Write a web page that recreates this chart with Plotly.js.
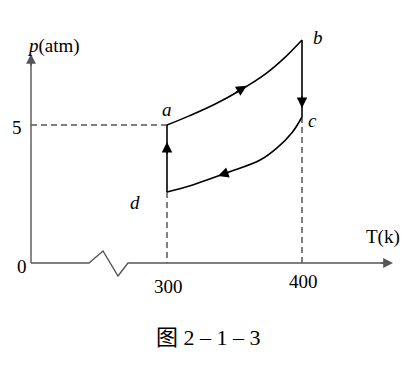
<!DOCTYPE html>
<html><head><meta charset="utf-8">
<script src="https://cdn.plot.ly/plotly-3.0.1.min.js"></script>
<style>html,body{margin:0;padding:0;background:#fff}#chart{width:410px;height:390px}</style>
</head><body><div id="chart"></div>
<script>
// state points of the cycle (T in K, p in atm)
const stateNames = ['a', 'b', 'c', 'd'];
const stateT = [300, 400, 400, 300];
const stateP = [5.0, 8.08, 5.29, 2.57];
// curve a -> b
const abT = [300, 317, 335, 354, 373, 387, 400];
const abP = [5.0, 5.34, 5.74, 6.25, 6.85, 7.43, 8.08];
// curve c -> d
const cdT = [400, 393, 381.5, 369, 344, 319, 300];
const cdP = [5.29, 4.75, 4.17, 3.73, 3.26, 2.83, 2.57];
// ticks
const xTickVals = [300, 400];
const xTickText = ['300', '400'];
const yTickVals = [0, 5];
const yTickText = ['0', '5'];
// axis geometry (origin T drawn at left because of the broken axis)
const T0 = 199.26;
const breakT = [242.2, 252.6, 263.7, 271.1];
const breakP = [0, 0.435, -0.471, 0];
const xAxisEndT = 467.4;
const yAxisTopP = 7.57;

const ink = '#000';
const axisInk = '#555';
const serif = 'Liberation Serif';

const traces = [
  {x: abT, y: abP, mode: 'lines', line: {color: ink, width: 1.6, shape: 'spline'}},
  {x: cdT, y: cdP, mode: 'lines', line: {color: ink, width: 1.6, shape: 'spline'}},
  {x: [stateT[1], stateT[2]], y: [stateP[1], stateP[2]], mode: 'lines', line: {color: ink, width: 1.6}},
  {x: [stateT[3], stateT[0]], y: [stateP[3], stateP[0]], mode: 'lines', line: {color: ink, width: 1.6}},
  // dashed guides
  {x: [T0, stateT[0]], y: [stateP[0], stateP[0]], mode: 'lines', line: {color: ink, width: 1, dash: '6px,4px'}},
  {x: [stateT[3], stateT[3]], y: [stateP[3], 0], mode: 'lines', line: {color: ink, width: 1, dash: '6px,4px'}},
  {x: [stateT[2], stateT[2]], y: [stateP[2], 0], mode: 'lines', line: {color: ink, width: 1, dash: '6px,4px'}},
  // axes
  {x: [T0, T0], y: [0, yAxisTopP - 0.2], mode: 'lines', line: {color: axisInk, width: 1.4}},
  {x: [T0].concat(breakT, [xAxisEndT - 3]), y: [0].concat(breakP, [0]), mode: 'lines', line: {color: axisInk, width: 1.4}}
];

function arrow(x, y, ax, ay, color, w) {
  return {x: x, y: y, ax: ax, ay: ay, xref: 'x', yref: 'y', axref: 'x', ayref: 'y',
    text: '', showarrow: true, arrowhead: 2, arrowsize: 1.4, arrowwidth: w || 1.5,
    arrowcolor: color || ink, standoff: 0};
}
function label(txt, x, y, dx, dy, size) {
  return {x: x, y: y, xref: 'x', yref: 'y', text: txt, showarrow: false,
    xshift: dx, yshift: dy, font: {family: serif, size: size || 19, color: ink}};
}

const tickShiftsX = [-23, -18];
const tickShiftsY = [[-9, -3], [-14, -2]];

const annotations = [
  arrow(359, 6.42, 350, 6.15),
  arrow(337.8, 3.15, 347, 3.31),
  arrow(400, 5.62, 400, 6.1),
  arrow(300, 4.38, 300, 3.9),
  arrow(T0, yAxisTopP, T0, yAxisTopP - 0.5, axisInk, 1.4),
  arrow(xAxisEndT, 0, xAxisEndT - 10, 0, axisInk, 1.4),
  label('<i>a</i>', stateT[0], stateP[0], 0, 16),
  label('<i>b</i>', stateT[1], stateP[1], 16, 2),
  label('<i>c</i>', stateT[2], stateP[2], 10, -3),
  label('<i>d</i>', stateT[3], stateP[3], -32, -10),
  label('<i>p</i>(atm)', T0, yAxisTopP, 22, 8),
  label('T(k)', 460, 0, 0, 26),
  {x: 208 / 410, y: 1 - 352 / 390, xref: 'paper', yref: 'paper', text: '图 2 – 1 – 3', showarrow: false,
    font: {family: 'Liberation Serif, Noto Sans CJK SC', size: 22, color: ink}}
];
xTickVals.forEach((v, i) => annotations.push(label(xTickText[i], v, 0, 1, tickShiftsX[i])));
yTickVals.forEach((v, i) => annotations.push(label(yTickText[i], T0, v, tickShiftsY[i][0], tickShiftsY[i][1])));

const layout = {
  width: 410, height: 390,
  margin: {l: 0, r: 0, t: 0, b: 0},
  paper_bgcolor: '#fff', plot_bgcolor: '#fff',
  font: {family: serif, size: 19, color: ink},
  showlegend: false,
  xaxis: {range: [176.3, 480], showgrid: false, zeroline: false, showline: false,
    showticklabels: false, ticks: ''},
  yaxis: {range: [-4.601, 9.529], showgrid: false, zeroline: false, showline: false,
    showticklabels: false, ticks: ''},
  annotations: annotations
};

Plotly.newPlot('chart', traces, layout, {staticPlot: true, displayModeBar: false});
</script></body></html>
